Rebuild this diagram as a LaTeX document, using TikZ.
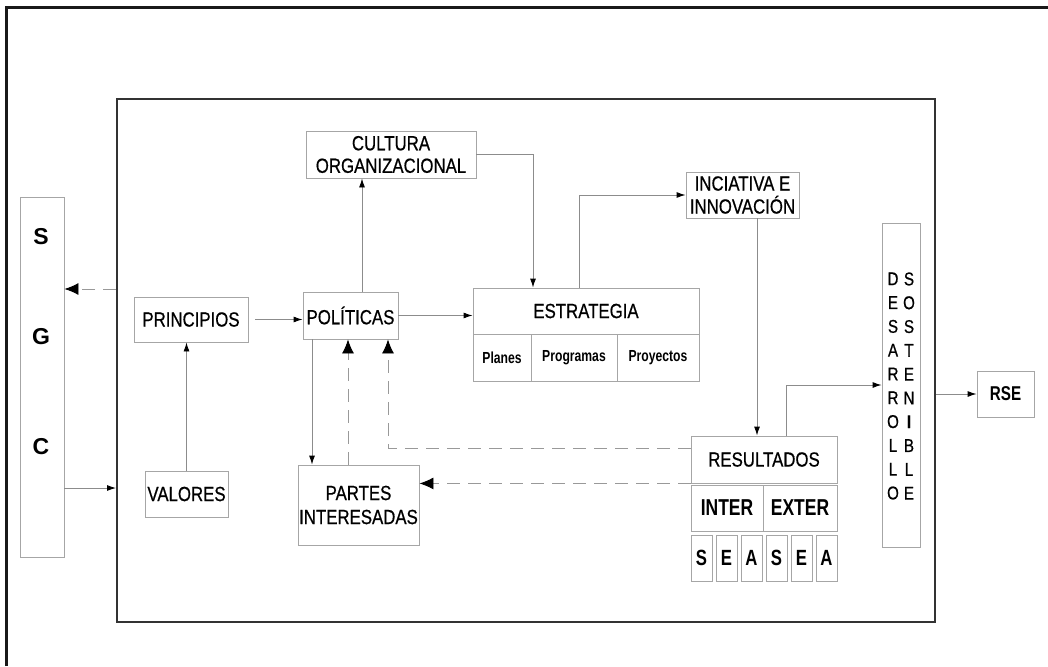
\documentclass[tikz,border=0pt]{standalone}
\usepackage{fontspec}
\setmainfont{Liberation Sans}
\newfontfamily\narrow{Liberation Sans}[FakeStretch=0.82, FakeBold=0.6]
\newfontfamily\cond{Liberation Sans}[FakeStretch=0.76]
\usetikzlibrary{arrows.meta, positioning, calc}
\newcommand{\lbl}{\narrow\fontsize{20.5}{22.5}\selectfont}
\tikzset{
  box/.style={draw=black!35, line width=0.9pt, inner sep=0pt, align=center, font=\lbl},
  link/.style={draw=black!45, line width=0.9pt, -{Latex[length=9pt, width=6pt, color=black]}},
  back/.style={draw=black!40, line width=0.9pt, dash pattern=on 13pt off 8pt, -{Latex[length=14pt, width=12pt, color=black]}}
}
\begin{document}
\begin{tikzpicture}[x=1pt, y=-1pt]
\useasboundingbox (0,0) rectangle (1048,666);
\draw[line width=3pt, black!90] (6,666) -- (6,8) -- (1048,8);
\node[draw=black!80, line width=2pt, minimum width=818pt, minimum height=523pt] (frame) at (526,360.5) {};
\node[box, minimum width=44pt, minimum height=360pt] (sgc) at (42,377) {};
\node[font=\bfseries\fontsize{23}{26}\selectfont] (sgcS) at (41,237) {S};
\node[font=\bfseries\fontsize{23}{26}\selectfont] (sgcG) at (41,337) {G};
\node[font=\bfseries\fontsize{23}{26}\selectfont] (sgcC) at (41,447) {C};
\node[box, minimum width=114pt, minimum height=45pt] (prin) at (191,319.5) {PRINCIPIOS};
\node[box, minimum width=83pt, minimum height=46pt] (val) at (186.5,494) {VALORES};
\node[box, minimum width=95pt, minimum height=47pt] (pol) at (350.5,315.5) {POLÍTICAS};
\node[box, minimum width=170pt, minimum height=47pt] (cult) at (391,154.5) {CULTURA\\ORGANIZACIONAL};
\node[box, minimum width=226pt, minimum height=46pt] (estr) at (586,311) {ESTRATEGIA};
\node[box, minimum width=58pt, minimum height=47pt, font=\cond\bfseries\fontsize{16}{18}\selectfont] (plan) at (502,357.5) {Planes};
\node[box, minimum width=86pt, minimum height=47pt, font=\cond\bfseries\fontsize{16}{18}\selectfont] (prog) at (574,357.5) {Programas};
\node[box, minimum width=82pt, minimum height=47pt, font=\cond\bfseries\fontsize{16}{18}\selectfont] (proy) at (658,357.5) {Proyectos};
\node[box, minimum width=113pt, minimum height=46pt, font=\narrow\fontsize{20.5}{23}\selectfont] (inic) at (742.5,195) {INCIATIVA E\\INNOVACIÓN};
\node[box, minimum width=146pt, minimum height=47pt] (res) at (764,459.5) {RESULTADOS};
\node[box, minimum width=72pt, minimum height=46pt, font=\cond\bfseries\fontsize{23}{25}\selectfont] (inter) at (727,508) {INTER};
\node[box, minimum width=74pt, minimum height=46pt, font=\cond\bfseries\fontsize{23}{25}\selectfont] (exter) at (800,508) {EXTER};
\foreach \t [count=\i from 0] in {S,E,A,S,E,A}
  \node[box, minimum width=21pt, minimum height=46pt, font=\cond\bfseries\fontsize{22}{24}\selectfont] (sea\i) at (701.5+25*\i,558) {\t};
\node[box, minimum width=121pt, minimum height=80pt, font=\narrow\fontsize{20.5}{24}\selectfont] (partes) at (358.5,505) {PARTES\\INTERESADAS};
\node[box, minimum width=38pt, minimum height=324pt] (des) at (901,385) {};
\node[align=center, inner sep=0pt, font=\narrow\fontsize{18.5}{23.8}\selectfont] (desL) at (893,386) {D\\E\\S\\A\\R\\R\\O\\L\\L\\O};
\node[align=center, inner sep=0pt, font=\narrow\fontsize{18.5}{23.8}\selectfont] (desR) at (909,386) {S\\O\\S\\T\\E\\N\\\textbf{I}\\B\\L\\E};
\node[box, minimum width=57pt, minimum height=46pt, font=\cond\bfseries\fontsize{20}{22}\selectfont] (rse) at (1005.5,394) {RSE};
\draw[back] (frame.west |- 0,289) -- (sgc.east |- 0,289);
\draw[link] (sgc.east |- 0,488) -- (frame.west |- 0,488);
\draw[link] (val.north) -- (val.north |- prin.south);
\draw[link, shorten <=7pt] (prin.east) -- (prin.east -| pol.west);
\draw[link] ([xshift=11.5pt]pol.north) -- ([xshift=11.5pt]pol.north |- cult.south);
\draw[link] (pol.east) -- (pol.east -| estr.west);
\draw[link] (cult.east) -| ([xshift=-53pt]estr.north);
\draw[link] ([xshift=-7pt]estr.north) |- (inic.west);
\draw[link] ([xshift=14.5pt]inic.south) -- ([xshift=14.5pt]inic.south |- res.north);
\draw[link] ([xshift=22pt]res.north) |- (des.west);
\draw[link] (frame.east |- rse.west) -- (rse.west);
\draw[link] ([xshift=-38.5pt]pol.south) -- ([xshift=-38.5pt]pol.south |- partes.north);
\draw[back] (partes.north -| 348,0) -- (pol.south -| 348,0);
\draw[back] (res.west |- 0,448) -| ([xshift=37.5pt]pol.south);
\draw[back] (res.south west) -- (partes.east |- res.south west);
\end{tikzpicture}
\end{document}
